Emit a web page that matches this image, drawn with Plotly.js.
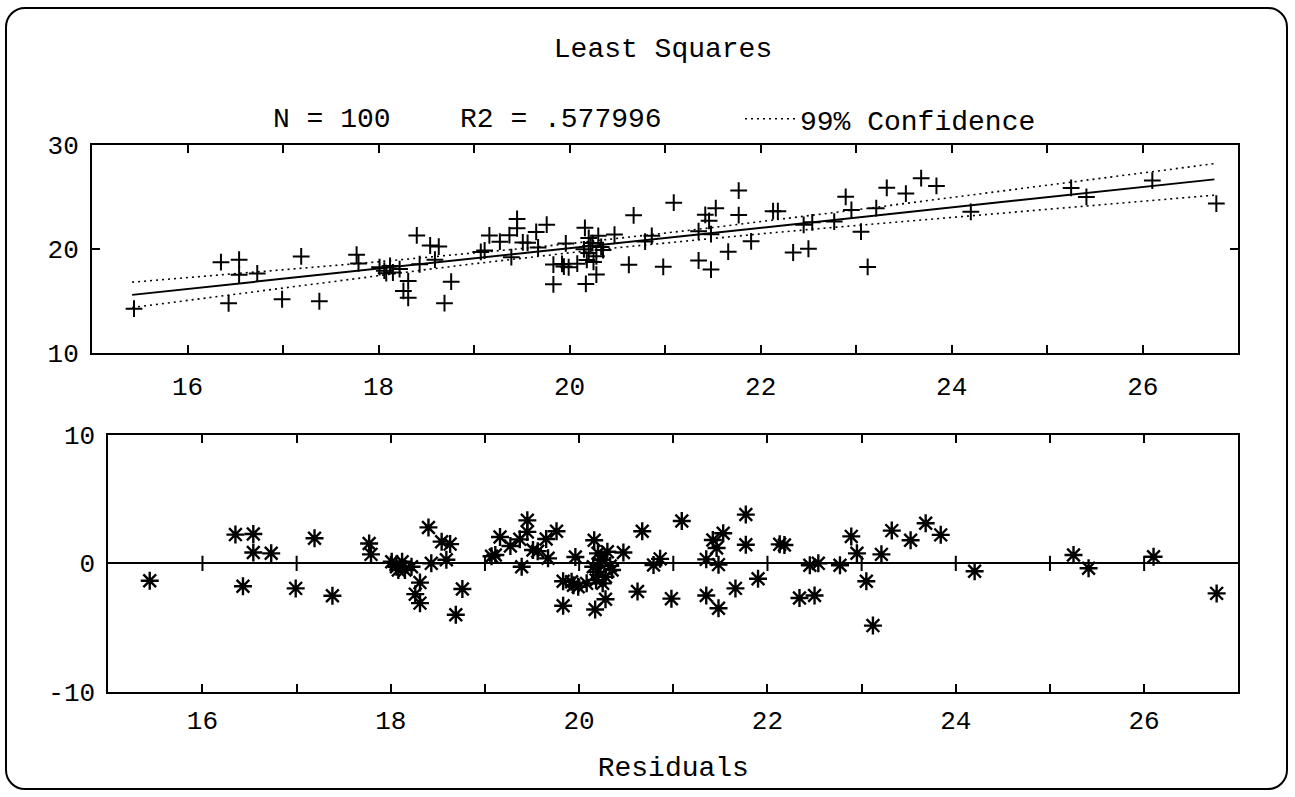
<!DOCTYPE html>
<html>
<head>
<meta charset="utf-8">
<script src="https://cdn.plot.ly/plotly-3.0.1.min.js"></script>
<style>
html,body{margin:0;padding:0;background:#fff;}
#wrap{position:relative;width:1295px;height:797px;overflow:hidden;}
#chart{position:absolute;left:0;top:0;width:1295px;height:797px;}
#frame{position:absolute;left:5px;top:7px;width:1279px;height:779px;border:2px solid #000;border-radius:20px;pointer-events:none;}
</style>
</head>
<body>
<div id="wrap"><div id="chart"></div><div id="frame"></div></div>
<script>
// ---- data ----
const titleText = 'Least Squares';
const statN = 100;
const statR2 = '.577996';
const bandName = '99% Confidence';
const residTitle = 'Residuals';

const xVals = [15.44,16.35,16.54,16.54,16.73,16.43,16.99,17.19,17.38,17.77,
17.79,18.01,18.06,18.12,18.08,18.22,18.15,18.40,18.31,18.26,
18.31,18.43,18.54,18.63,18.59,18.76,18.69,19.11,19.16,19.27,
19.39,19.37,19.45,19.45,19.51,19.65,19.76,19.67,19.83,19.83,
19.96,19.92,19.99,20.08,20.17,20.28,20.47,20.67,20.62,20.79,
20.86,20.98,21.09,21.35,21.35,21.42,21.46,21.53,21.48,21.48,
21.66,21.77,21.77,21.90,22.13,22.18,22.45,22.54,22.34,22.50,
22.77,22.89,22.95,23.05,23.12,23.21,23.32,23.52,23.68,23.84,
24.20,25.25,25.41,26.10,26.77,19.07,19.56,19.94,20.16,20.20,
20.24,20.15,20.20,20.28,20.18,20.25,20.35,20.30,20.22,20.33];

const yVals = [14.28,18.75,18.99,17.55,17.67,14.80,15.19,19.30,15.00,19.46,
18.63,18.27,17.93,18.38,17.69,18.09,17.76,21.32,16.93,15.99,
15.33,18.55,20.35,20.25,18.99,16.88,14.81,19.87,21.32,20.72,
19.23,21.34,22.90,22.00,20.65,21.65,22.35,20.16,18.52,16.62,
20.55,18.58,18.26,18.61,16.66,17.56,21.40,23.25,18.50,20.73,
21.28,18.30,24.46,21.72,18.91,23.30,22.72,23.93,21.44,18.04,
19.76,25.62,23.27,20.75,23.65,23.65,22.34,22.58,19.68,20.04,
22.65,25.02,23.76,21.68,18.29,23.93,25.89,25.34,26.81,26.07,
23.58,25.88,25.01,26.58,24.38,19.73,20.61,18.33,22.05,21.07,
20.58,19.98,19.64,19.32,18.97,18.77,19.91,21.28,20.30,20.21];

const residVals = [-1.35,2.24,2.29,0.85,0.78,-1.79,-1.95,1.96,-2.52,1.55,
0.70,0.13,-0.26,0.13,-0.52,-0.26,-0.52,2.80,-1.50,-2.40,
-3.10,0.00,1.69,1.50,0.28,-2.00,-4.00,0.65,2.05,1.35,
-0.26,1.87,3.35,2.45,1.04,1.90,2.50,0.39,-1.40,-3.30,
0.50,-1.43,-1.82,-1.56,-3.60,-2.80,0.85,2.50,-2.20,-0.13,
0.35,-2.75,3.30,0.31,-2.50,1.82,1.20,2.34,-0.10,-3.50,
-1.95,3.80,1.45,-1.20,1.48,1.43,-0.15,0.00,-2.70,-2.50,
-0.15,2.10,0.78,-1.40,-4.85,0.70,2.55,1.80,3.12,2.22,
-0.62,0.65,-0.38,0.52,-2.34,0.55,0.95,-1.70,1.80,0.78,
0.26,-0.26,-0.65,-1.04,-1.30,-1.56,-0.52,0.90,0.00,-0.20];

const fitX = [15.42, 26.75];
const fitY = [15.61, 26.70];

const bandX =     [15.42,16.0,16.5,17.0,17.5,18.0,18.5,19.0,19.5,20.0,20.5,21.0,21.5,22.0,22.5,23.0,23.5,24.0,24.5,25.0,25.5,26.0,26.5,26.75];
const bandUpper = [16.83,17.25,17.63,18.01,18.40,18.79,19.20,19.62,20.06,20.53,21.02,21.54,22.08,22.63,23.20,23.78,24.37,24.95,25.54,26.13,26.73,27.32,27.91,28.22];
const bandLower = [14.39,15.09,15.69,16.29,16.88,17.47,18.04,18.60,19.14,19.65,20.14,20.60,21.04,21.47,21.88,22.28,22.67,23.05,23.44,23.83,24.21,24.60,24.99,25.18];

const xTickVals = [16,17,18,19,20,21,22,23,24,25,26];
const xTickText = ['16','','18','','20','','22','','24','','26'];
const yTopTicks = [10,20,30];
const yTopText = ['10','20','30'];
const yBotTicks = [-10,0,10];
const yBotText = ['-10','0','10'];
const xRange = [15,27];
const yTopRange = [10,30];
const yBotRange = [-10,10];

// ---- styling ----
const FONT = 'Liberation Mono, DejaVu Sans Mono, monospace';
const W = 1295, H = 797;
const px = v => v / W;
const py = v => 1 - v / H;

const axisCommon = {
  showgrid:false, zeroline:false, showline:true, linecolor:'#000', linewidth:2,
  ticks:'inside', ticklen:8, tickwidth:2, tickcolor:'#000', mirror:'ticks',
  tickfont:{family:FONT, size:26, color:'#000'}, fixedrange:true
};

const traces = [
  {x:bandX, y:bandUpper, xaxis:'x', yaxis:'y', mode:'lines', name:bandName, legendgroup:'ci',
   showlegend:true, line:{color:'#000', width:1.6, dash:'2px,4px'}, hoverinfo:'skip'},
  {x:bandX, y:bandLower, xaxis:'x', yaxis:'y', mode:'lines', name:bandName, legendgroup:'ci',
   showlegend:false, line:{color:'#000', width:1.6, dash:'2px,4px'}, hoverinfo:'skip'},
  {x:fitX, y:fitY, xaxis:'x', yaxis:'y', mode:'lines', showlegend:false,
   line:{color:'#000', width:2}, hoverinfo:'skip'},
  {x:xVals, y:yVals, xaxis:'x', yaxis:'y', mode:'markers', showlegend:false,
   marker:{symbol:'cross-thin', size:12, color:'#000', line:{color:'#000', width:2}}},
  {x:xTickVals, y:xTickVals.map(() => 0), xaxis:'x2', yaxis:'y2', mode:'markers', showlegend:false,
   marker:{symbol:'line-ns', size:11, color:'#000', line:{color:'#000', width:2}}, hoverinfo:'skip'},
  {x:xVals, y:residVals, xaxis:'x2', yaxis:'y2', mode:'markers', showlegend:false,
   marker:{symbol:'asterisk', size:15, color:'#000', line:{color:'#000', width:2.4}}}
];

const layout = {
  width:W, height:H, margin:{l:0, r:0, t:0, b:0},
  paper_bgcolor:'#fff', plot_bgcolor:'#fff',
  font:{family:FONT, color:'#000'},
  title:{text:titleText, font:{family:FONT, size:28, color:'#000'},
         x:px(663), xanchor:'center', xref:'container', y:py(47), yanchor:'middle', yref:'container'},
  showlegend:true,
  legend:{orientation:'h', x:px(740), xanchor:'left', y:py(119), yanchor:'middle',
          font:{family:FONT, size:28, color:'#000'}, itemwidth:50, bgcolor:'rgba(0,0,0,0)', borderwidth:0},
  annotations:[
    {text:'N = ' + statN, x:px(332), y:py(119), xref:'paper', yref:'paper', showarrow:false,
     xanchor:'center', yanchor:'middle', font:{family:FONT, size:28, color:'#000'}},
    {text:'R2 = ' + statR2, x:px(561), y:py(119), xref:'paper', yref:'paper', showarrow:false,
     xanchor:'center', yanchor:'middle', font:{family:FONT, size:28, color:'#000'}}
  ],
  xaxis:Object.assign({}, axisCommon, {domain:[px(92), px(1238.3)], range:xRange, anchor:'y',
     tickmode:'array', tickvals:xTickVals, ticktext:xTickText, ticklabelstandoff:8}),
  yaxis:Object.assign({}, axisCommon, {domain:[py(353.3), py(145)], range:yTopRange, anchor:'x',
     tickmode:'array', tickvals:yTopTicks, ticktext:yTopText, ticklabelstandoff:6}),
  xaxis2:Object.assign({}, axisCommon, {domain:[px(108.3), px(1238.3)], range:xRange, anchor:'y2',
     tickmode:'array', tickvals:xTickVals, ticktext:xTickText, ticklabelstandoff:4,
     title:{text:residTitle, font:{family:FONT, size:28, color:'#000'}, standoff:20}}),
  yaxis2:Object.assign({}, axisCommon, {domain:[py(691.7), py(435)], range:yBotRange, anchor:'x2',
     tickmode:'array', tickvals:yBotTicks, ticktext:yBotText, ticklabelstandoff:6,
     zeroline:true, zerolinecolor:'#000', zerolinewidth:2})
};

Plotly.newPlot('chart', traces, layout, {displayModeBar:false, staticPlot:true});
</script>
</body>
</html>
